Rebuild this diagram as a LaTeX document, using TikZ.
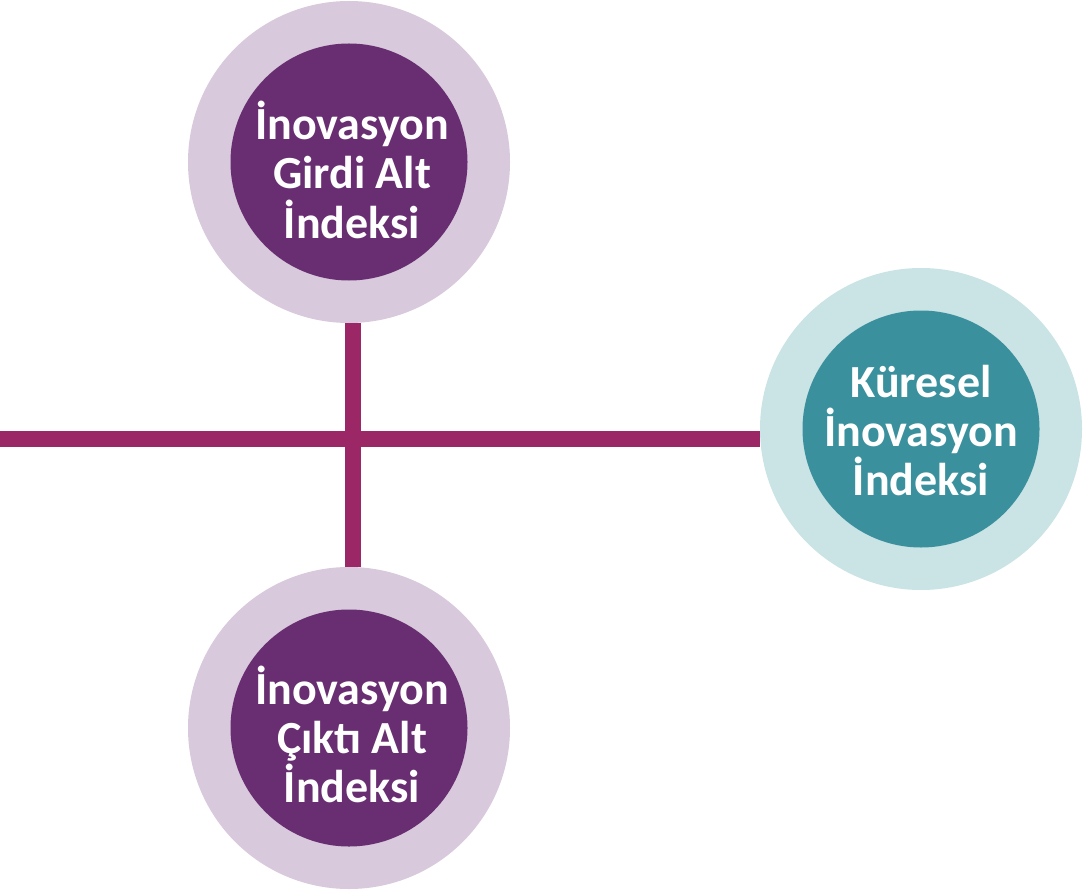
\documentclass[tikz,border=0pt]{standalone}
\usepackage{fontspec}
\setmainfont{Carlito}
\usetikzlibrary{positioning}
\definecolor{halkamor}{HTML}{D8C9DC}
\definecolor{ozmor}{HTML}{692E71}
\definecolor{halkateal}{HTML}{CAE3E5}
\definecolor{ozteal}{HTML}{3A919D}
\definecolor{cizgimor}{HTML}{9B2767}
\tikzset{halka/.style={circle, minimum size=322pt, inner sep=0pt}}
\tikzset{oz/.style={circle, minimum size=237pt, inner sep=0pt}}
\tikzset{yazi/.style={text=white, align=center, anchor=base, inner sep=0pt,
    font=\fontsize{46}{49}\selectfont\bfseries}}
\tikzset{cizgi/.style={draw=cizgimor, line width=16pt}}

\begin{document}
\begin{tikzpicture}[x=1pt, y=-1pt]
\useasboundingbox (0,0) rectangle (1083,893);

\coordinate (sol) at (0,439);
\coordinate (kesisim) at (353,439);

\node[halka, fill=halkamor] (girdi) at (349,162) {};
\node[halka, fill=halkamor] (cikti) at (349,728) {};
\node[halka, fill=halkateal] (kuresel) at (921,429) {};

\node[oz, fill=ozmor] (girdiOz) at (girdi) {};
\node[oz, fill=ozmor] (ciktiOz) at (cikti) {};
\node[oz, fill=ozteal] (kureselOz) at (kuresel) {};

% son satirin taban cizgisi
\node[yazi, xshift=3pt, yshift=-76pt] (girdiYazi) at (girdiOz) {İnovasyon\\Girdi Alt\\İndeksi};
\node[yazi, xshift=3pt, yshift=-74pt] (ciktiYazi) at (ciktiOz) {İnovasyon\\Çıktı Alt\\İndeksi};
\node[yazi, yshift=-66pt] (kureselYazi) at (kureselOz) {Küresel\\İnovasyon\\İndeksi};

\draw[cizgi] (sol) -- (sol -| kuresel.west);
\draw[cizgi] (girdi.south -| kesisim) -- (cikti.north -| kesisim);
\end{tikzpicture}
\end{document}
